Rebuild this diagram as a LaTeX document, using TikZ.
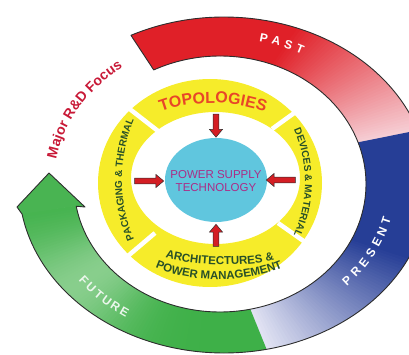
\documentclass[tikz,border=0pt]{standalone}
\usepackage{fontspec}
\setmainfont{Liberation Sans}
\usetikzlibrary{shapes.arrows,decorations.text}
\definecolor{pastred}{RGB}{224,32,40}
\definecolor{pastpale}{RGB}{248,222,228}
\definecolor{presblue}{RGB}{38,62,150}
\definecolor{prespale}{RGB}{236,236,248}
\definecolor{futgreen}{RGB}{62,176,72}
\definecolor{futpale}{RGB}{196,230,196}
\definecolor{ringedge}{RGB}{45,45,45}
\definecolor{bandyellow}{RGB}{246,236,42}
\definecolor{topred}{RGB}{232,70,40}
\definecolor{bandgreen}{RGB}{40,80,40}
\definecolor{corefill}{RGB}{96,198,222}
\definecolor{corepurple}{RGB}{170,45,135}
\definecolor{arrowred}{RGB}{212,30,36}
\definecolor{focusred}{RGB}{200,25,55}
\tikzset{
  ringline/.style={draw=ringedge, line width=0.9pt, line join=round},
  gapline/.style={white, line width=4.5pt},
  feedarrow/.style={single arrow, draw=ringedge, fill=arrowred, line width=0.5pt,
    inner sep=2.6pt, single arrow head extend=3.8pt, single arrow tip angle=80,
    minimum height=#1},
  ringword/.style={text=white, font=\fontsize{12}{12}\selectfont\bfseries, inner sep=0pt}
}
\begin{document}
\begin{tikzpicture}[x=1pt,y=1pt]
  \useasboundingbox (0,0) rectangle (409,354);
  \clip (0,0) rectangle (409,354);
  \foreach \a in {117,116,...,19} {
    \pgfmathsetmacro\p{min(100,100*(\a-15)/55)}
    \fill[pastred!\p!pastpale] ({224+205*cos(\a)},{169+168*sin(\a)}) -- ({224+205*cos(\a-1.3)},{169+168*sin(\a-1.3)})
      -- ({220+146*cos(\a-1.3)},{170+128*sin(\a-1.3)}) -- ({220+146*cos(\a)},{170+128*sin(\a)}) -- cycle;
  }
  \foreach \a in {19,18,...,-77} {
    \pgfmathsetmacro\p{min(100,100*(\a+80)/55)}
    \fill[presblue!\p!prespale] ({224+205*cos(\a)},{169+168*sin(\a)}) -- ({224+205*cos(\a-1.3)},{169+168*sin(\a-1.3)})
      -- ({220+146*cos(\a-1.3)},{170+128*sin(\a-1.3)}) -- ({220+146*cos(\a)},{170+128*sin(\a)}) -- cycle;
  }
  \foreach \a in {-78,-79,...,-169} {
    \pgfmathsetmacro\p{100-55*exp(-((\a+140)/20)^2)}
    \fill[futgreen!\p!futpale] ({224+205*cos(\a)},{169+168*sin(\a)}) -- ({224+205*cos(\a-1.3)},{169+168*sin(\a-1.3)})
      -- ({220+146*cos(\a-1.3)},{170+128*sin(\a-1.3)}) -- ({220+146*cos(\a)},{170+128*sin(\a)}) -- cycle;
  }
  \fill[futgreen!92!futpale] (22,140) -- (17,147) -- (49,181) -- (85,147) -- (76,148) -- cycle;
  \draw[ringline] plot[domain=117:-170, samples=200] ({224+205*cos(\x)},{169+168*sin(\x)})
    -- (17,147) -- (49,181) -- (85,147)
    -- plot[domain=-170:117, samples=200] ({220+146*cos(\x)},{170+128*sin(\x)}) -- cycle;

  \fill[bandyellow, even odd rule] (210,171) ellipse [x radius=112pt, y radius=104pt]
    (215.5,176) ellipse [x radius=84.5pt, y radius=66pt];
  \draw[gapline] (122,251) -- (158,223);
  \draw[gapline] (272,225) -- (308,251);
  \draw[gapline] (278,131) -- (312,107);
  \draw[gapline] (122,93) -- (155,121);

  \fill[corefill] (216,174) ellipse [x radius=51pt, y radius=42pt];
  \node[align=center, text=corepurple, font=\fontsize{11.5}{12.5}\selectfont] (core) at (216,173) {POWER SUPPLY\\TECHNOLOGY};
  \node[feedarrow=23pt, rotate=-90] (arrtop) at (216,230) {};
  \node[feedarrow=22pt, rotate=90] (arrbot) at (216,117) {};
  \node[feedarrow=29pt] (arrleft) at (147.5,173) {};
  \node[feedarrow=29pt, rotate=180] (arrright) at (282.5,174) {};

  \path[decorate, decoration={text along path, text align=center, text color=topred,
    text={|\fontsize{16}{16}\selectfont\bfseries|TOPOLOGIES}}]
    ({213+110*cos(150)},{174+77*sin(150)}) arc[start angle=150, end angle=30, x radius=110pt, y radius=77pt];
  \path[decorate, decoration={text along path, text align=center, text color=bandgreen,
    text={|\fontsize{10}{10}\selectfont\bfseries|DEVICES {\&} MATERIAL}}]
    ({213+92*cos(42)},{172+110*sin(42)}) arc[start angle=42, end angle=-42, x radius=92pt, y radius=110pt];
  \path[decorate, decoration={text along path, text align=center, text color=bandgreen,
    text={|\fontsize{10}{10}\selectfont\bfseries|PACKAGING {\&} THERMAL}}]
    ({213+91*cos(222)},{174+120*sin(222)}) arc[start angle=222, end angle=138, x radius=91pt, y radius=120pt];
  \path[decorate, decoration={text along path, text align=center, text color=bandgreen,
    text={|\fontsize{11.5}{11.5}\selectfont\bfseries|ARCHITECTURES {\&}}}]
    (150,102) .. controls (185,86) and (250,85) .. (290,98);
  \path[decorate, decoration={text along path, text align=center, text color=bandgreen,
    text={|\fontsize{11.5}{11.5}\selectfont\bfseries|POWER MANAGEMENT}}]
    (143,93) .. controls (180,69) and (255,68) .. (295,93);
  \path[decorate, decoration={text along path, text align=center, text color=focusred,
    text={|\fontsize{14}{14}\selectfont\bfseries|Major R{\&}D Focus}}]
    ({224+170*cos(180)},{171+144*sin(180)}) arc[start angle=180, end angle=118, x radius=170pt, y radius=144pt];

  \foreach \ch [count=\i] in {P,A,S,T} {
    \pgfmathsetmacro\t{81-4.2*\i}
    \pgfmathsetmacro\r{atan2(-149*cos(\t),175*sin(\t))}
    \node[ringword, rotate=\r] (past\i) at ({224+175*cos(\t)},{171+149*sin(\t)}) {\ch};
  }
  \foreach \ch [count=\i] in {P,R,E,S,E,N,T} {
    \pgfmathsetmacro\t{-47.5+4.6*\i}
    \pgfmathsetmacro\r{atan2(143*cos(\t),-168*sin(\t))}
    \node[ringword, rotate=\r] (pres\i) at ({224+168*cos(\t)},{171+143*sin(\t)}) {\ch};
  }
  \foreach \ch [count=\i] in {F,U,T,U,R,E} {
    \pgfmathsetmacro\t{-144.6+3.5*\i}
    \pgfmathsetmacro\r{atan2(155*cos(\t),-180*sin(\t))}
    \node[ringword, text=white!90!futgreen, rotate=\r] (fut\i) at ({224+180*cos(\t)},{171+155*sin(\t)}) {\ch};
  }
\end{tikzpicture}
\end{document}
